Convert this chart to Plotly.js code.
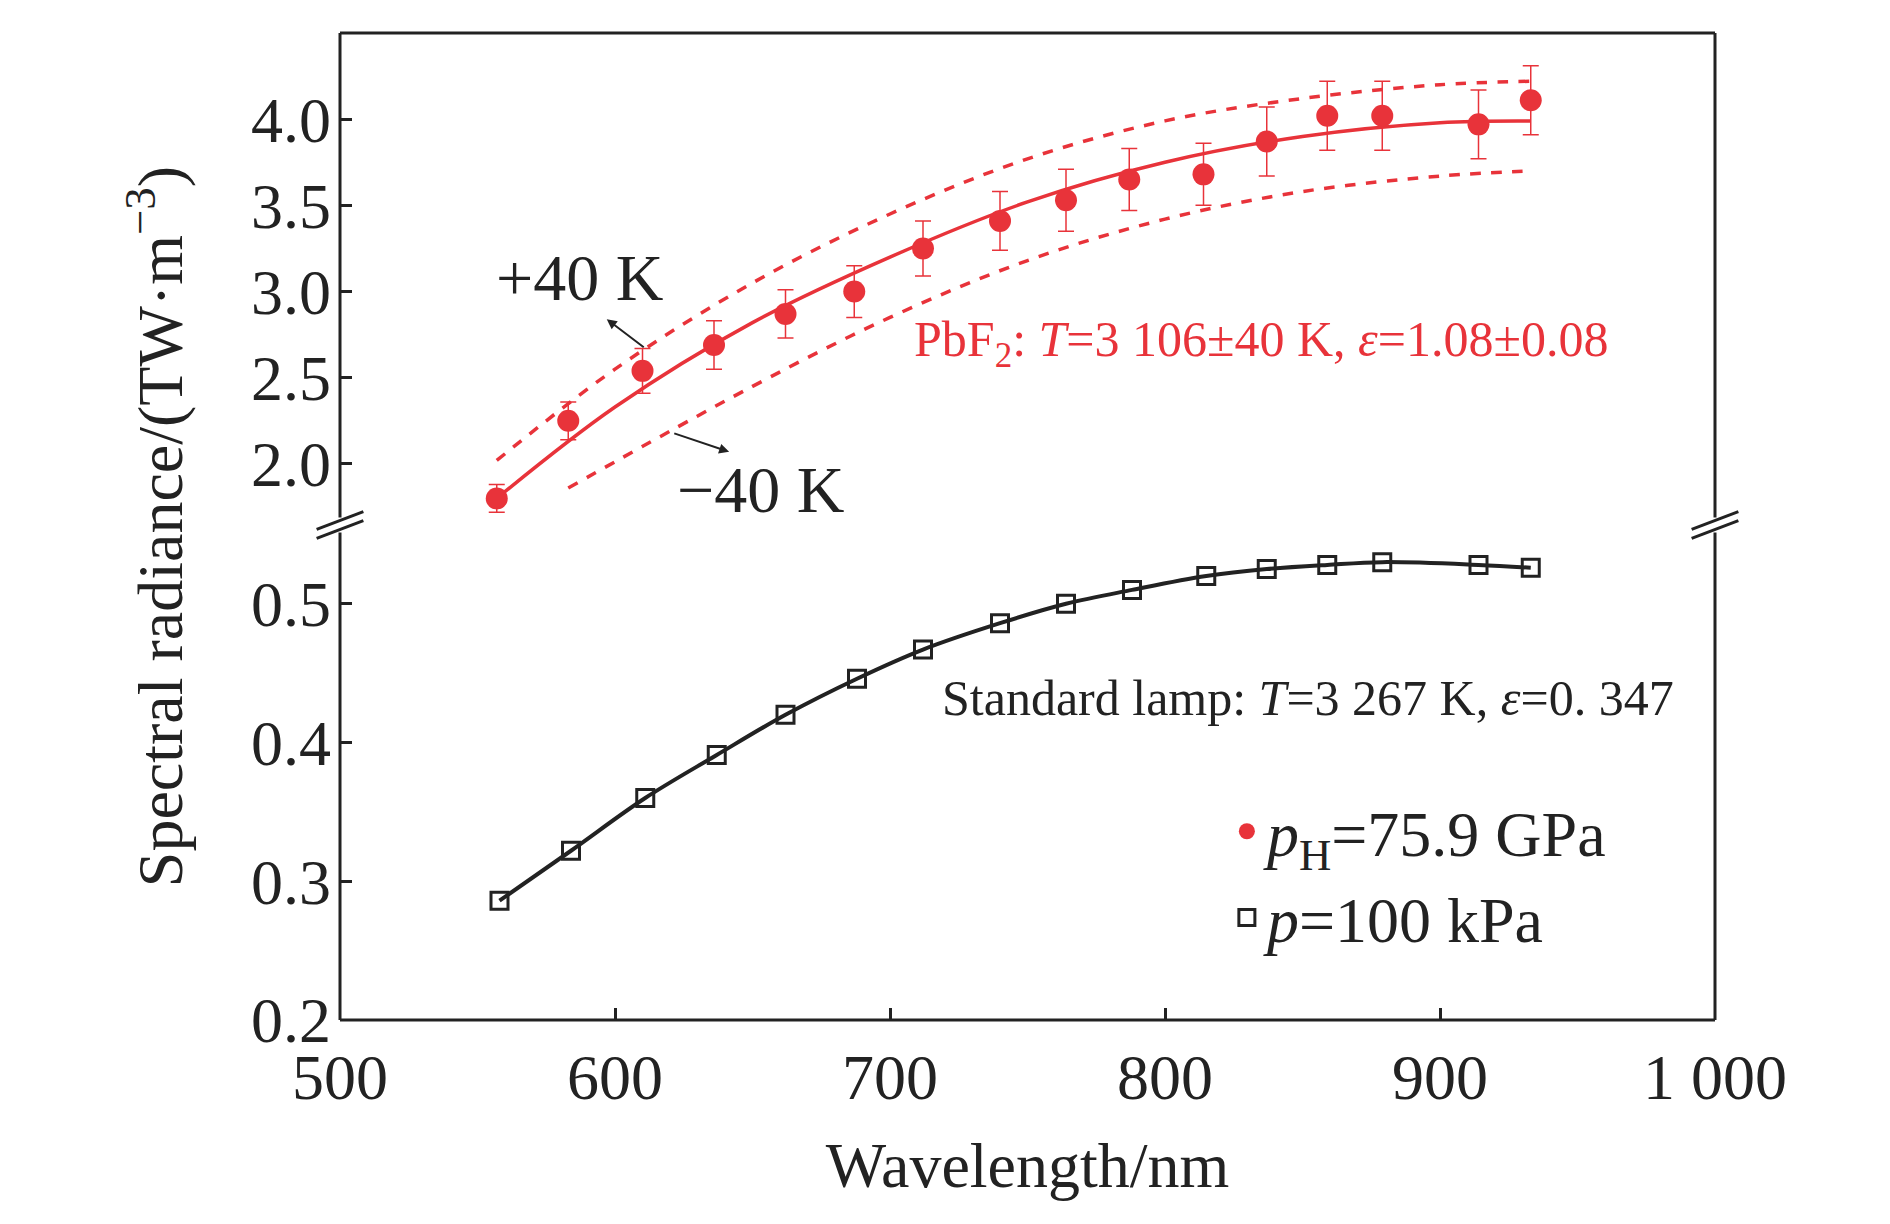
<!DOCTYPE html>
<html><head><meta charset="utf-8">
<script src="https://cdn.plot.ly/plotly-3.0.1.min.js"></script>
<style>body{margin:0}</style></head>
<body><div id="c" style="width:1890px;height:1224px"></div>
<script>
const wlRed = [557,583,610,636,662,687,712,740,764,787,814,837,859,879,914,933];
const radRed = [1.80,2.25,2.54,2.69,2.87,3.00,3.25,3.41,3.53,3.65,3.68,3.87,4.02,4.02,3.97,4.11];
const errRed = [0.08,0.11,0.13,0.14,0.14,0.15,0.16,0.17,0.18,0.18,0.18,0.2,0.2,0.2,0.2,0.2];
const wlFit = [557,600,650,700,750,800,850,900,933];
const radFit = [1.80,2.33,2.82,3.20,3.52,3.75,3.90,3.98,3.99];
const wlUp = [557,600,650,700,750,800,850,900,933];
const radUp = [2.02,2.55,3.05,3.45,3.77,3.99,4.12,4.20,4.22];
const wlLow = [583,650,700,750,800,850,900,933];
const radLow = [1.86,2.45,2.85,3.18,3.42,3.58,3.67,3.70];
const wlLamp = [558,584,611,637,662,688,712,740,764,788,815,837,859,879,914,933];
const radLamp = [0.286,0.322,0.360,0.391,0.420,0.446,0.467,0.486,0.500,0.510,0.520,0.525,0.528,0.530,0.528,0.526];
const xTicks = [500,600,700,800,900,1000];
const xTickText = ['500','600','700','800','900','1 000'];
const yTopTicks = [2.0,2.5,3.0,3.5,4.0,4.5];
const yTopText = ['2.0','2.5','3.0','3.5','4.0','4.5'];
const yBotTicks = [0.2,0.3,0.4,0.5];
const yBotText = ['0.2','0.3','0.4','0.5'];

const red = '#e8333a', blk = '#222';
const F = 'Liberation Serif, Times New Roman, serif';
const traces = [
 {x:wlFit,y:radFit,yaxis:'y2',mode:'lines',line:{color:red,width:3.5,shape:'spline'},showlegend:false},
 {x:wlUp,y:radUp,yaxis:'y2',mode:'lines',line:{color:red,width:3.5,dash:'dash',shape:'spline'},showlegend:false},
 {x:wlLow,y:radLow,yaxis:'y2',mode:'lines',line:{color:red,width:3.5,dash:'dash',shape:'spline'},showlegend:false},
 {x:wlRed,y:radRed,yaxis:'y2',mode:'markers',name:'<i>p</i><sub>H</sub>=75.9 GPa',
  marker:{color:red,size:22},error_y:{type:'data',array:errRed,color:red,thickness:1.5,width:8}},
 {x:wlLamp,y:radLamp,yaxis:'y',mode:'lines',line:{color:blk,width:4,shape:'spline'},showlegend:false},
 {x:wlLamp,y:radLamp,yaxis:'y',mode:'markers',name:'<i>p</i>=100 kPa',
  marker:{symbol:'square-open',size:17,color:blk,line:{width:3,color:blk}}}
];
const ax = {showline:false,ticks:'inside',ticklen:12,tickwidth:3,tickcolor:blk,showgrid:false,zeroline:false,
  tickfont:{family:F,size:64,color:blk}};
const layout = {
 margin:{l:340,r:175,t:33,b:204},
 paper_bgcolor:'white',plot_bgcolor:'white',
 font:{family:F,color:blk},
 xaxis:Object.assign({},ax,{range:[500,1000],tickvals:xTicks,ticktext:xTickText,ticklabelstandoff:14,
   title:{text:'Wavelength/nm',font:{family:F,size:64,color:blk},standoff:30}}),
 yaxis:Object.assign({},ax,{domain:[0,0.492],range:[0.2,0.55],tickvals:yBotTicks,ticktext:yBotText,ticklabelstandoff:8}),
 yaxis2:Object.assign({},ax,{domain:[0.511,1],range:[1.70,4.5],tickvals:yTopTicks,ticktext:yTopText,ticklabelstandoff:8}),
 legend:{x:0.645,y:0.24,xanchor:'left',yanchor:'top',font:{family:F,size:64,color:blk},bgcolor:'rgba(0,0,0,0)',tracegroupgap:0,itemwidth:30},
 shapes:[
  {type:'line',xref:'paper',yref:'paper',x0:0,x1:1,y0:1,y1:1,line:{color:blk,width:3}},
  {type:'line',xref:'paper',yref:'paper',x0:0,x1:1,y0:0,y1:0,line:{color:blk,width:3}},
  {type:'line',xref:'paper',yref:'paper',x0:0,x1:0,y0:0,y1:1,line:{color:blk,width:3}},
  {type:'line',xref:'paper',yref:'paper',x0:1,x1:1,y0:0,y1:1,line:{color:blk,width:3}},
  {type:'rect',xref:'paper',yref:'paper',x0:-0.02,x1:0.02,y0:0.494,y1:0.509,line:{width:0},fillcolor:'white'},
  {type:'rect',xref:'paper',yref:'paper',x0:0.98,x1:1.02,y0:0.494,y1:0.509,line:{width:0},fillcolor:'white'},
  {type:'line',xref:'paper',yref:'paper',x0:-0.017,x1:0.017,y0:0.488,y1:0.506,line:{color:blk,width:3}},
  {type:'line',xref:'paper',yref:'paper',x0:-0.017,x1:0.017,y0:0.497,y1:0.515,line:{color:blk,width:3}},
  {type:'line',xref:'paper',yref:'paper',x0:0.983,x1:1.017,y0:0.488,y1:0.506,line:{color:blk,width:3}},
  {type:'line',xref:'paper',yref:'paper',x0:0.983,x1:1.017,y0:0.497,y1:0.515,line:{color:blk,width:3}}
 ],
 annotations:[
  {text:'Spectral radiance/(TW·m<sup>−3</sup>)',xref:'paper',yref:'paper',x:-0.165,y:0.5,textangle:-90,showarrow:false,
   font:{family:F,size:64,color:blk}},
  {text:'+40 K',xref:'x',yref:'y2',x:587,y:3.08,showarrow:false,font:{family:F,size:66,color:blk}},
  {text:'−40 K',xref:'x',yref:'y2',x:653,y:1.85,showarrow:false,font:{family:F,size:66,color:blk}},
  {xref:'x',yref:'y2',x:597,y:2.84,ax:611,ay:2.67,axref:'x',ayref:'y2',text:'',showarrow:true,arrowhead:2,arrowsize:1,arrowwidth:2,arrowcolor:blk},
  {xref:'x',yref:'y2',x:641.5,y:2.07,ax:621,ay:2.18,axref:'x',ayref:'y2',text:'',showarrow:true,arrowhead:2,arrowsize:1,arrowwidth:2,arrowcolor:blk},
  {text:'PbF<sub>2</sub>: <i>T</i>=3 106±40 K, <i>ε</i>=1.08±0.08',xref:'x',yref:'y2',x:835,y:2.70,showarrow:false,
   font:{family:F,size:50,color:red}},
  {text:'Standard lamp: <i>T</i>=3 267 K, <i>ε</i>=0. 347',xref:'x',yref:'y',x:852,y:0.432,showarrow:false,
   font:{family:F,size:50,color:blk}}
 ]
};
Plotly.newPlot('c',traces,layout,{displayModeBar:false});
</script></body></html>
